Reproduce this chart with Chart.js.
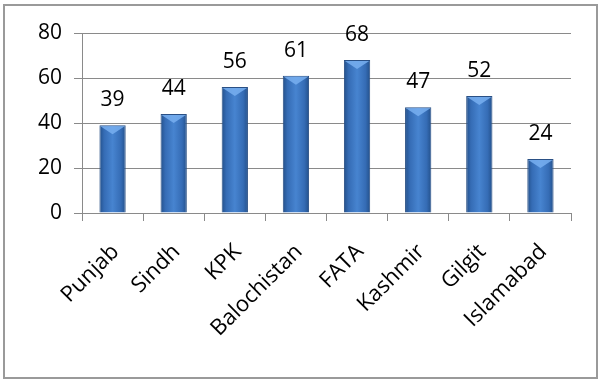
<!DOCTYPE html>
<html>
<head>
<meta charset="utf-8">
<script src="https://cdn.jsdelivr.net/npm/chart.js@4"></script>
<style>
  html, body { margin: 0; padding: 0; background: #fff; }
  #wrap { position: relative; width: 600px; height: 379px; }
  #frame { position: absolute; left: 3px; top: 4px; width: 591px; height: 371px; border: 2px solid #9a9a9a; }
  canvas { position: absolute; left: 0; top: 0; }
</style>
</head>
<body>
<div id="wrap">
  <div id="frame"></div>
  <canvas id="chart" width="600" height="379"></canvas>
</div>
<script>
const regions = ["Punjab", "Sindh", "KPK", "Balochistan", "FATA", "Kashmir", "Gilgit", "Islamabad"];
const values = [39, 44, 56, 61, 68, 47, 52, 24];
const yTicks = [0, 20, 40, 60, 80];

const BAR_PCT = 0.43;

// horizontal shading per bar, worked out from the x scale
const barFill = (c) => {
  const chart = c.chart;
  const xs = chart.scales.x;
  if (!xs || c.dataIndex === undefined) return "#3a72bb";
  const cx = xs.getPixelForValue(c.dataIndex);
  const half = (xs.width / regions.length) * BAR_PCT / 2;
  if (!Number.isFinite(cx) || !Number.isFinite(half) || half <= 0) return "#3a72bb";
  const g = chart.ctx.createLinearGradient(cx - half, 0, cx + half, 0);
  g.addColorStop(0, "#23508a");
  g.addColorStop(0.18, "#356cb5");
  g.addColorStop(0.5, "#4784d0");
  g.addColorStop(0.82, "#356cb5");
  g.addColorStop(1, "#23508a");
  return g;
};

// light bevel on the top of every bar + the value above it
const barTops = {
  id: "barTops",
  afterDatasetsDraw(chart) {
    const ctx = chart.ctx;
    const meta = chart.getDatasetMeta(0);
    ctx.save();
    meta.data.forEach((bar, i) => {
      const half = bar.width / 2;
      ctx.fillStyle = "rgba(120, 175, 240, 0.85)";
      ctx.beginPath();
      ctx.moveTo(bar.x - half + 1, bar.y + 1);
      ctx.lineTo(bar.x + half - 1, bar.y + 1);
      ctx.lineTo(bar.x, bar.y + 9);
      ctx.closePath();
      ctx.fill();
    });
    ctx.font = "21px 'Open Sans'";
    ctx.fillStyle = "#000";
    ctx.textAlign = "center";
    ctx.textBaseline = "middle";
    meta.data.forEach((bar, i) => {
      ctx.fillText(values[i], bar.x, bar.y - 25);
    });
    ctx.restore();
  },
};

new Chart(document.getElementById("chart").getContext("2d"), {
  type: "bar",
  data: {
    labels: regions,
    datasets: [
      {
        data: values,
        backgroundColor: barFill,
        borderColor: "#2a5085",
        borderWidth: 1,
        categoryPercentage: 1,
        barPercentage: BAR_PCT,
      },
    ],
  },
  options: {
    responsive: false,
    animation: false,
    layout: { padding: { top: 33, right: 29, left: 0, bottom: 0 } },
    plugins: { legend: { display: false }, tooltip: { enabled: false } },
    scales: {
      x: {
        afterFit: (s) => { s.height = 166; },
        grid: { drawOnChartArea: false, color: "#8a8a8a", tickLength: 8, offset: true },
        border: { color: "#8a8a8a", width: 1 },
        ticks: {
          color: "#000",
          font: { family: "Open Sans", size: 22 },
          maxRotation: 45,
          minRotation: 45,
          padding: 18,
          labelOffset: 3,
          autoSkip: false,
        },
      },
      y: {
        min: 0,
        max: 80,
        afterFit: (s) => { s.width = 82; },
        afterBuildTicks: (s) => { s.ticks = yTicks.map((v) => ({ value: v })); },
        grid: { color: "#8a8a8a", tickLength: 8 },
        border: { color: "#8a8a8a", width: 1 },
        ticks: {
          color: "#000",
          font: { family: "Open Sans", size: 21 },
          padding: 12,
        },
      },
    },
  },
  plugins: [barTops],
});
</script>
</body>
</html>
